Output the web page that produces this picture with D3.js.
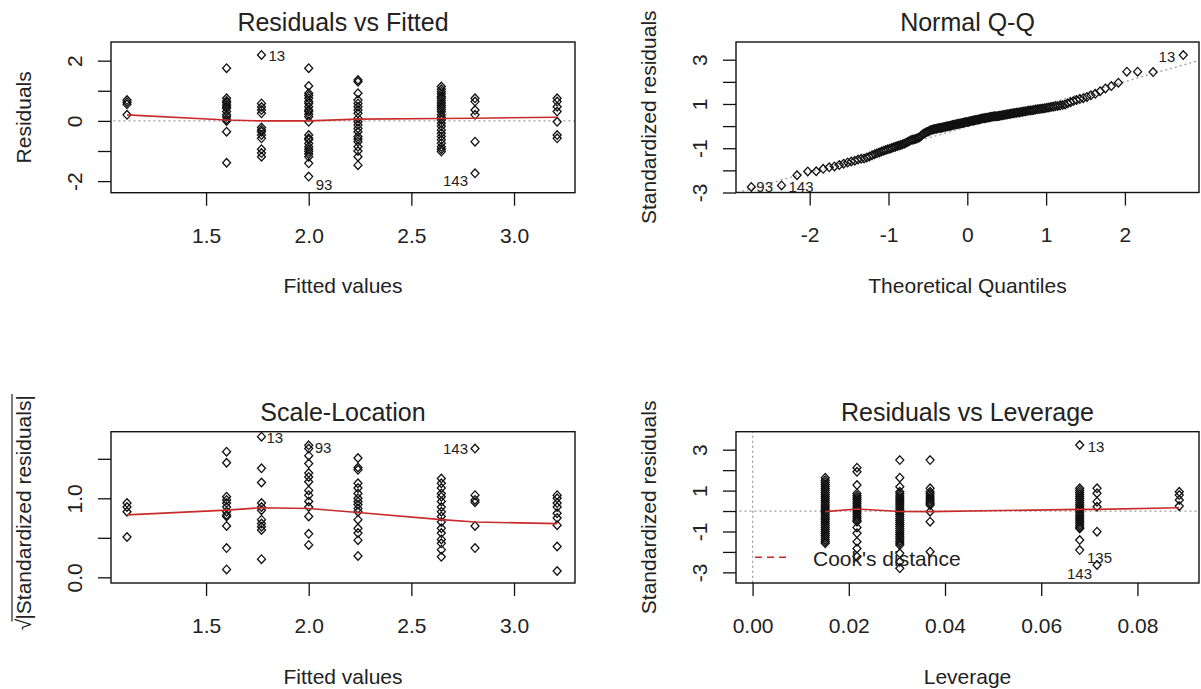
<html>
  <head>
    <!-- Load d3.js -->
    <script src="https://d3js.org/d3.v7.min.js"></script>
    <style>
      body { margin: 0; background: #fff; }
      text { font-family: "Liberation Sans", Arial, sans-serif; fill: #222; }
    </style>
  </head>
  <body>
    <div id="chart"></div>
    <script>
      // ---- data ----
      // distinct fitted values (x columns of plots 1 and 3)
      const fittedLevels = [1.115, 1.6, 1.77, 2.0, 2.24, 2.646, 2.81, 3.21];
      // residuals per fitted column
      const rvfResiduals = [
        [0.69, 0.62, 0.55, 0.2],
        [1.75, 0.75, 0.66, 0.6, 0.53, 0.46, 0.42, 0.31, 0.2, 0.14, 0.05, 0.0, -0.36, -1.39],
        [2.19, 0.58, 0.46, 0.36, 0.25, -0.22, -0.3, -0.36, -0.47, -0.58, -0.94, -1.07, -1.19],
        [1.75, 1.16, 0.92, 0.84, 0.75, 0.64, 0.58, 0.47, 0.36, 0.31, 0.22, 0.14, -0.03, -0.47, -0.58, -0.63, -0.75, -0.86, -0.94, -1.02, -1.1, -1.19, -1.41, -1.85],
        [1.36, 1.3, 0.92, 0.69, 0.58, 0.47, 0.36, 0.25, 0.09, -0.03, -0.14, -0.25, -0.36, -0.52, -0.6, -0.69, -0.86, -1.0, -1.19, -1.47],
        [1.14, 1.05, 0.97, 0.89, 0.81, 0.75, 0.67, 0.59, 0.52, 0.45, 0.38, 0.3, 0.2, 0.12, 0.03, -0.08, -0.18, -0.3, -0.41, -0.52, -0.63, -0.74, -0.86, -0.94, -1.02],
        [0.75, 0.64, 0.36, 0.2, -0.69, -1.74],
        [0.75, 0.64, 0.47, 0.31, -0.03, -0.47, -0.58]
      ];
      const rvfSmooth = [0.2, 0.03, 0.0, 0.0, 0.06, 0.08, 0.09, 0.12];
      const rvfIds = [{id: "13", col: 2, row: 0}, {id: "93", col: 3, row: 23}, {id: "143", col: 6, row: 5}];

      // sorted standardized residuals (Normal Q-Q)
      const qqStdResiduals = [
        -2.75, -2.68, -2.22, -2.05, -2.04, -1.93, -1.86, -1.82, -1.76, -1.70,
        -1.64, -1.60, -1.56, -1.51, -1.48, -1.46, -1.42, -1.37, -1.32, -1.27,
        -1.23, -1.19, -1.15, -1.11, -1.08, -1.05, -1.02, -0.99, -0.96, -0.93,
        -0.90, -0.88, -0.85, -0.82, -0.80, -0.76, -0.72, -0.68, -0.64, -0.62,
        -0.60, -0.58, -0.56, -0.53, -0.50, -0.44, -0.38, -0.33, -0.30, -0.27,
        -0.24, -0.21, -0.18, -0.16, -0.14, -0.13, -0.12, -0.11, -0.09, -0.08,
        -0.07, -0.06, -0.04, -0.03, -0.02, -0.01, 0.01, 0.02, 0.03, 0.05,
        0.06, 0.07, 0.08, 0.09, 0.11, 0.12, 0.13, 0.14, 0.15, 0.17,
        0.18, 0.19, 0.20, 0.22, 0.23, 0.24, 0.25, 0.26, 0.28, 0.29,
        0.30, 0.31, 0.32, 0.34, 0.35, 0.36, 0.37, 0.38, 0.39, 0.40,
        0.41, 0.42, 0.43, 0.44, 0.44, 0.45, 0.46, 0.47, 0.48, 0.49,
        0.50, 0.51, 0.52, 0.54, 0.55, 0.56, 0.57, 0.58, 0.59, 0.60,
        0.61, 0.62, 0.64, 0.65, 0.66, 0.67, 0.68, 0.70, 0.71, 0.72,
        0.73, 0.75, 0.76, 0.77, 0.78, 0.80, 0.81, 0.83, 0.84, 0.86,
        0.88, 0.90, 0.91, 0.93, 0.95, 0.98, 1.03, 1.08, 1.13, 1.18,
        1.22, 1.26, 1.32, 1.39, 1.46, 1.58, 1.70, 1.81, 1.96, 2.46,
        2.46, 2.44, 3.21
      ];
      const qqLine = {intercept: -0.03, slope: 1.02};
      const qqIds = [{id: "93", rank: 0}, {id: "143", rank: 1}, {id: "13", rank: 162}];

      // sqrt(|standardized residuals|) per fitted column
      const slValues = [
        [0.94, 0.89, 0.83, 0.51],
        [1.59, 1.45, 1.02, 0.98, 0.94, 0.89, 0.83, 0.79, 0.77, 0.65, 0.37, 0.10],
        [1.78, 1.38, 1.20, 0.94, 0.89, 0.85, 0.73, 0.68, 0.64, 0.60, 0.23],
        [1.67, 1.63, 1.54, 1.44, 1.32, 1.27, 1.21, 1.10, 1.04, 0.96, 0.89, 0.77, 0.55, 0.41],
        [1.51, 1.39, 1.36, 1.19, 1.13, 1.06, 1.0, 0.96, 0.92, 0.87, 0.83, 0.73, 0.62, 0.56, 0.47, 0.27],
        [1.25, 1.19, 1.13, 1.06, 1.02, 0.96, 0.89, 0.83, 0.77, 0.70, 0.62, 0.56, 0.48, 0.43, 0.35, 0.26],
        [1.63, 1.04, 0.98, 0.95, 0.65, 0.37],
        [1.04, 1.0, 0.94, 0.89, 0.81, 0.75, 0.66, 0.39, 0.08]
      ];
      const slSmooth = [0.79, 0.85, 0.88, 0.87, 0.82, 0.73, 0.70, 0.68];
      const slIds = [{id: "13", col: 2, row: 0}, {id: "93", col: 3, row: 0}, {id: "143", col: 6, row: 0}];

      // leverage columns and standardized residuals
      const leverageLevels = [0.0151, 0.0217, 0.0306, 0.0369, 0.068, 0.0716, 0.0887];
      const levStdResiduals = [
        [1.63, 1.5, 1.4, 1.3, 1.2, 1.1, 1.0, 0.9, 0.8, 0.7, 0.6, 0.5, 0.4, 0.3, 0.2, 0.1, 0.0, -0.1, -0.2, -0.3, -0.4, -0.5, -0.6, -0.7, -0.8, -0.9, -1.0, -1.1, -1.2, -1.3, -1.4, -1.5, -1.58],
        [2.12, 1.92, 1.27, 0.86, 0.75, 0.65, 0.55, 0.45, 0.35, 0.25, 0.15, 0.05, -0.05, -0.15, -0.25, -0.35, -0.45, -0.52, -0.8, -1.09, -1.5, -1.83, -2.23],
        [2.49, 1.63, 1.19, 0.94, 0.84, 0.74, 0.64, 0.54, 0.44, 0.34, 0.24, 0.14, 0.04, -0.06, -0.16, -0.26, -0.36, -0.46, -0.56, -0.66, -0.76, -0.86, -0.96, -1.06, -1.16, -1.26, -1.36, -1.46, -1.56, -1.66, -2.07, -2.48, -2.8],
        [2.49, 1.11, 0.94, 0.84, 0.74, 0.64, 0.54, 0.44, 0.36, 0.29, -0.03, -0.52, -1.99],
        [3.23, 1.11, 1.01, 0.91, 0.81, 0.71, 0.61, 0.51, 0.41, 0.31, 0.21, 0.11, 0.01, -0.09, -0.19, -0.29, -0.39, -0.49, -0.59, -0.69, -0.79, -0.85, -1.42, -1.91],
        [1.11, 0.87, 0.46, 0.21, -1.01, -2.64],
        [0.94, 0.78, 0.54, 0.24]
      ];
      const levSmooth = [-0.03, 0.1, -0.02, -0.03, 0.08, 0.08, 0.16];
      const levIds = [{id: "13", col: 4, row: 0}, {id: "135", col: 5, row: 5}, {id: "143", col: 5, row: 5}];

      // tick values and which of them carry a label
      const fittedTicks = [1.5, 2.0, 2.5, 3.0];
      const residTicks = [-2, -1, 0, 1, 2];
      const residTickLabels = [-2, 0, 2];
      const quantileTicks = [-2, -1, 0, 1, 2];
      const stdTicks = [-3, -2, -1, 0, 1, 2, 3];
      const stdTickLabels = [-3, -1, 1, 3];
      const sqrtTicks = [0, 0.5, 1.0, 1.5];
      const sqrtTickLabels = [0, 1.0];
      const leverageTicks = [0, 0.02, 0.04, 0.06, 0.08];

      // ---- drawing ----
      const width = 1201, height = 689;
      const svg = d3.select("#chart").append("svg")
        .attr("width", width)
        .attr("height", height);

      // standard normal quantile (for the Q-Q x positions)
      function qnorm(p) {
        const a = [-3.969683028665376e+01, 2.209460984245205e+02, -2.759285104469687e+02, 1.383577518672690e+02, -3.066479806614716e+01, 2.506628277459239e+00];
        const b = [-5.447609879822406e+01, 1.615858368580409e+02, -1.556989798598866e+02, 6.680131188771972e+01, -1.328068155288572e+01];
        const c = [-7.784894002430293e-03, -3.223964580411365e-01, -2.400758277161838e+00, -2.549732539343734e+00, 4.374664141464968e+00, 2.938163982698783e+00];
        const d = [7.784695709041462e-03, 3.224671290700398e-01, 2.445134137142996e+00, 3.754408661907416e+00];
        const pl = 0.02425;
        let q, r;
        if (p < pl) {
          q = Math.sqrt(-2 * Math.log(p));
          return (((((c[0]*q+c[1])*q+c[2])*q+c[3])*q+c[4])*q+c[5]) / ((((d[0]*q+d[1])*q+d[2])*q+d[3])*q+1);
        }
        if (p > 1 - pl) {
          q = Math.sqrt(-2 * Math.log(1 - p));
          return -(((((c[0]*q+c[1])*q+c[2])*q+c[3])*q+c[4])*q+c[5]) / ((((d[0]*q+d[1])*q+d[2])*q+d[3])*q+1);
        }
        q = p - 0.5; r = q * q;
        return (((((a[0]*r+a[1])*r+a[2])*r+a[3])*r+a[4])*r+a[5])*q / (((((b[0]*r+b[1])*r+b[2])*r+b[3])*r+b[4])*r+1);
      }

      const diamond = "M0,-4.3L4,0L0,4.3L-4,0Z";
      const ink = "#111";
      const red = "#c92a2a";

      function makePanel(p) {
        const g = svg.append("g");
        const x = d3.scaleLinear().domain(p.xDomain).range([p.left, p.right]);
        const y = d3.scaleLinear().domain(p.yDomain).range([p.bottom, p.top]);

        svg.append("clipPath").attr("id", "clip" + p.id)
          .append("rect")
          .attr("x", p.left).attr("y", p.top)
          .attr("width", p.right - p.left).attr("height", p.bottom - p.top);
        const plot = g.append("g").attr("clip-path", `url(#clip${p.id})`);

        // x axis
        const xa = g.append("g")
          .attr("transform", `translate(0,${p.bottom})`)
          .call(d3.axisBottom(x).tickValues(p.xTicks).tickFormat(p.xFormat).tickSize(13).tickPadding(22));
        xa.select(".domain").remove();
        xa.attr("font-size", 21).attr("font-family", null).attr("color", ink);
        xa.selectAll(".tick line").attr("stroke-width", 1.3);

        // y axis, labels turned like R does
        const ya = g.append("g")
          .attr("transform", `translate(${p.left},0)`)
          .call(d3.axisLeft(y).tickValues(p.yTicks)
            .tickFormat(d => p.yLabels.includes(d) ? p.yFormat(d) : "").tickSize(13));
        ya.select(".domain").remove();
        ya.attr("font-size", 21).attr("font-family", null).attr("color", ink);
        ya.selectAll(".tick line").attr("stroke-width", 1.3);
        ya.selectAll(".tick text")
          .attr("transform", "rotate(-90)")
          .attr("x", 0).attr("y", -29).attr("dy", 0)
          .attr("text-anchor", "middle");

        // box
        g.append("rect")
          .attr("x", p.left).attr("y", p.top)
          .attr("width", p.right - p.left).attr("height", p.bottom - p.top)
          .attr("fill", "none").attr("stroke", ink).attr("stroke-width", 1.4);

        // title + axis titles
        g.append("text")
          .attr("x", (p.left + p.right) / 2).attr("y", p.top - 11)
          .attr("text-anchor", "middle").attr("font-size", 25)
          .text(p.title);
        g.append("text")
          .attr("x", (p.left + p.right) / 2).attr("y", p.xTitleY)
          .attr("text-anchor", "middle").attr("font-size", 21)
          .text(p.xTitle);
        if (p.yTitle) {
          g.append("text")
            .attr("transform", `translate(${p.left - 80},${(p.top + p.bottom) / 2}) rotate(-90)`)
            .attr("text-anchor", "middle").attr("font-size", 21)
            .text(p.yTitle);
        }
        return {x, y, plot, g};
      }

      function drawPoints(panel, pts) {
        panel.plot.append("g")
          .selectAll("path")
          .data(pts)
          .join("path")
          .attr("d", diamond)
          .attr("transform", d => `translate(${panel.x(d.x)},${panel.y(d.y)})`)
          .attr("fill", "none")
          .attr("stroke", ink)
          .attr("stroke-width", 1.3);
      }

      function dotted(panel, x1, y1, x2, y2) {
        panel.plot.append("line")
          .attr("x1", panel.x(x1)).attr("y1", panel.y(y1))
          .attr("x2", panel.x(x2)).attr("y2", panel.y(y2))
          .attr("stroke", "#9a9a9a").attr("stroke-width", 1.3)
          .attr("stroke-dasharray", "2,3");
      }

      function smooth(panel, xs, ys) {
        panel.plot.append("path")
          .datum(xs.map((v, i) => [v, ys[i]]))
          .attr("d", d3.line().x(d => panel.x(d[0])).y(d => panel.y(d[1])))
          .attr("fill", "none").attr("stroke", red).attr("stroke-width", 1.6);
      }

      function idLabel(panel, xv, yv, txt, dx, dy, anchor) {
        panel.g.append("text")
          .attr("x", panel.x(xv) + dx).attr("y", panel.y(yv) + dy)
          .attr("text-anchor", anchor)
          .attr("font-size", 15).attr("fill", "#333")
          .text(txt);
      }

      const fmt1 = d3.format(".1f");
      const plain = d => String(d);

      // 1. Residuals vs Fitted
      const p1 = makePanel({
        id: 1, left: 111, right: 575, top: 42, bottom: 192.7,
        xDomain: [1.037, 3.297], yDomain: [-2.385, 2.62],
        xTicks: fittedTicks, xFormat: fmt1,
        yTicks: residTicks, yLabels: residTickLabels, yFormat: plain,
        title: "Residuals vs Fitted", xTitle: "Fitted values", xTitleY: 293, yTitle: "Residuals"
      });
      dotted(p1, 1.0, 0, 3.4, 0);
      drawPoints(p1, fittedLevels.flatMap((fx, i) => rvfResiduals[i].map(r => ({x: fx, y: r}))));
      smooth(p1, fittedLevels, rvfSmooth);
      const rvfOff = {"13": [7, 6, "start"], "93": [7, 13, "start"], "143": [-7, 13, "end"]};
      rvfIds.forEach(l => {
        const o = rvfOff[l.id];
        idLabel(p1, fittedLevels[l.col], rvfResiduals[l.col][l.row], l.id, o[0], o[1], o[2]);
      });

      // 2. Normal Q-Q
      const p2 = makePanel({
        id: 2, left: 736, right: 1199, top: 42, bottom: 192.5,
        xDomain: [-2.935, 2.94], yDomain: [-3.0, 3.8],
        xTicks: quantileTicks, xFormat: plain,
        yTicks: stdTicks, yLabels: stdTickLabels, yFormat: plain,
        title: "Normal Q-Q", xTitle: "Theoretical Quantiles", xTitleY: 293, yTitle: "Standardized residuals"
      });
      const nq = qqStdResiduals.length;
      const qqPts = qqStdResiduals.map((v, i) => ({x: qnorm((i + 0.5) / nq), y: v}));
      dotted(p2, -3.1, qqLine.intercept - 3.1 * qqLine.slope, 3.1, qqLine.intercept + 3.1 * qqLine.slope);
      drawPoints(p2, qqPts);
      const qqOff = {"93": [5, 5, "start"], "143": [7, 7, "start"], "13": [-8, 7, "end"]};
      qqIds.forEach(l => {
        const o = qqOff[l.id];
        idLabel(p2, qqPts[l.rank].x, qqPts[l.rank].y, l.id, o[0], o[1], o[2]);
      });

      // 3. Scale-Location
      const p3 = makePanel({
        id: 3, left: 111, right: 575, top: 431.7, bottom: 583,
        xDomain: [1.037, 3.297], yDomain: [-0.072, 1.843],
        xTicks: fittedTicks, xFormat: fmt1,
        yTicks: sqrtTicks, yLabels: sqrtTickLabels, yFormat: fmt1,
        title: "Scale-Location", xTitle: "Fitted values", xTitleY: 684, yTitle: null
      });
      drawPoints(p3, fittedLevels.flatMap((fx, i) => slValues[i].map(v => ({x: fx, y: v}))));
      smooth(p3, fittedLevels, slSmooth);
      const slOff = {"13": [5, 6, "start"], "93": [6, 8, "start"], "143": [-7, 5, "end"]};
      slIds.forEach(l => {
        const o = slOff[l.id];
        idLabel(p3, fittedLevels[l.col], slValues[l.col][l.row], l.id, o[0], o[1], o[2]);
      });
      // sqrt(|Standardized residuals|) axis title
      const sq = svg.append("g")
        .attr("transform", `translate(${111 - 80},${(431.7 + 583) / 2}) rotate(-90)`);
      const sqText = sq.append("text")
        .attr("text-anchor", "middle").attr("font-size", 21)
        .text("|Standardized residuals|");
      const half = sqText.node().getComputedTextLength() / 2;
      sq.append("text")
        .attr("x", -half + 1).attr("text-anchor", "end").attr("font-size", 21)
        .text("\u221A");
      sq.append("line")
        .attr("x1", -half - 2).attr("x2", half + 1)
        .attr("y1", -19).attr("y2", -19)
        .attr("stroke", "#222").attr("stroke-width", 1.2);

      // 4. Residuals vs Leverage
      const p4 = makePanel({
        id: 4, left: 736, right: 1199, top: 431.7, bottom: 583,
        xDomain: [-0.00345, 0.0928], yDomain: [-3.52, 3.88],
        xTicks: leverageTicks, xFormat: d3.format(".2f"),
        yTicks: stdTicks, yLabels: stdTickLabels, yFormat: plain,
        title: "Residuals vs Leverage", xTitle: "Leverage", xTitleY: 684, yTitle: "Standardized residuals"
      });
      dotted(p4, 0, -4, 0, 4);
      dotted(p4, -0.01, 0, 0.1, 0);
      drawPoints(p4, leverageLevels.flatMap((h, i) => levStdResiduals[i].map(v => ({x: h, y: v}))));
      smooth(p4, leverageLevels, levSmooth);
      const levOff = {"13": [8, 7, "start"], "135": [-10, -2, "start"], "143": [-5, 14, "end"]};
      levIds.forEach(l => {
        const o = levOff[l.id];
        idLabel(p4, leverageLevels[l.col], levStdResiduals[l.col][l.row], l.id, o[0], o[1], o[2]);
      });
      // legend
      p4.g.append("line")
        .attr("x1", 755).attr("x2", 789).attr("y1", 557.3).attr("y2", 557.3)
        .attr("stroke", red).attr("stroke-width", 1.6).attr("stroke-dasharray", "7,5");
      p4.g.append("text")
        .attr("x", 813).attr("y", 566).attr("font-size", 21)
        .text("Cook's distance");
    </script>
  </body>
</html>
